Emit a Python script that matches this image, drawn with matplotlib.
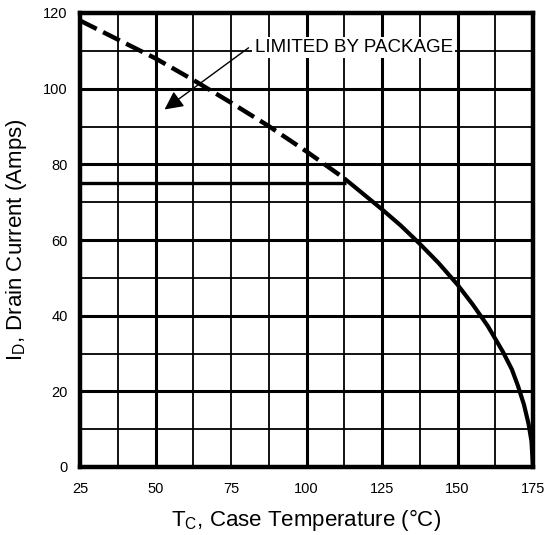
import matplotlib
matplotlib.use("Agg")
import matplotlib.pyplot as plt
import numpy as np

# Data
temp_c = [25, 37.5, 50, 62.5, 75, 87.5, 100, 106, 112.5, 118.75, 125, 131.25, 137.5,
          143.75, 150, 155, 160, 165, 168, 170, 172, 173.5, 174.5, 175]
current_a = [118, 113, 108, 102.3, 96.3, 90.1, 83.4, 80, 76.3, 72.2, 68.1, 63.8, 59,
             53.9, 48.2, 43, 37.3, 30.5, 25.8, 21.5, 16.5, 11.5, 6.8, 0]
package_limit_a = 75
package_limit_end_c = 113
x_ticks = [25, 50, 75, 100, 125, 150, 175]
y_ticks = [0, 20, 40, 60, 80, 100, 120]
x_minor = [37.5, 62.5, 87.5, 112.5, 137.5, 162.5]
y_minor = [10, 30, 50, 70, 90, 110]
x_thick = [50, 100, 125, 150]
x_thin = [75]

plt.rcParams['font.family'] = ['Liberation Sans', 'DejaVu Sans']

fig = plt.figure(figsize=(5.47, 5.35), dpi=100)
ax = fig.add_axes([80/547, (535-467)/535, (533-80)/547, (467-13)/535])
ax.set_xlim(25, 175)
ax.set_ylim(0, 120)

# grid
for xv in x_thick:
    ax.axvline(xv, color='black', lw=2.2, zorder=1)
for xv in x_thin + x_minor:
    ax.axvline(xv, color='black', lw=1.3, zorder=1)
for yv in y_ticks[1:-1]:
    ax.axhline(yv, color='black', lw=2.2, zorder=1)
for yv in y_minor:
    ax.axhline(yv, color='black', lw=1.3, zorder=1)

# package limit line
ax.plot([25, package_limit_end_c], [package_limit_a, package_limit_a], color='black',
        lw=2.4, zorder=2, solid_capstyle='butt')

t = np.array(temp_c)
i = np.array(current_a)
dmask = t <= 112.5
ax.plot(t[dmask], i[dmask], color='black', lw=3.2, dashes=(4.2, 1.6), zorder=3)
smask = t >= 112.5
ax.plot(t[smask], i[smask], color='black', lw=3.0, zorder=3,
        solid_joinstyle='round', solid_capstyle='butt')

# annotation
ax.annotate('', xy=(53.0, 94.5), xytext=(80.8, 110.8),
            arrowprops=dict(arrowstyle='-|>', color='black', lw=1.0, mutation_scale=28,
                            shrinkA=0, shrinkB=0), zorder=5)
ax.text(82.8, 110.8, 'LIMITED BY PACKAGE', fontsize=13.5, va='center', ha='left',
        bbox=dict(facecolor='white', edgecolor='none', pad=1.5), zorder=4)

ax.set_xticks(x_ticks)
ax.set_yticks(y_ticks)
ax.set_xticklabels([str(v) for v in x_ticks], fontsize=10.5)
ax.set_yticklabels([str(v) for v in y_ticks], fontsize=10.5)
ax.tick_params(axis='x', length=0, pad=11)
ax.tick_params(axis='y', length=0, pad=9)
for s in ax.spines.values():
    s.set_linewidth(3.2)
    s.set_zorder(6)

ax.set_xlabel(r'T$_\mathregular{C}$, Case Temperature (°C)', fontsize=16)
ax.set_ylabel(r'I$_\mathregular{D}$, Drain Current (Amps)', fontsize=16)
ax.xaxis.set_label_coords(0.5, -0.088)
ax.yaxis.set_label_coords(-0.112, 0.5)

fig.savefig('out.png', dpi=100)
